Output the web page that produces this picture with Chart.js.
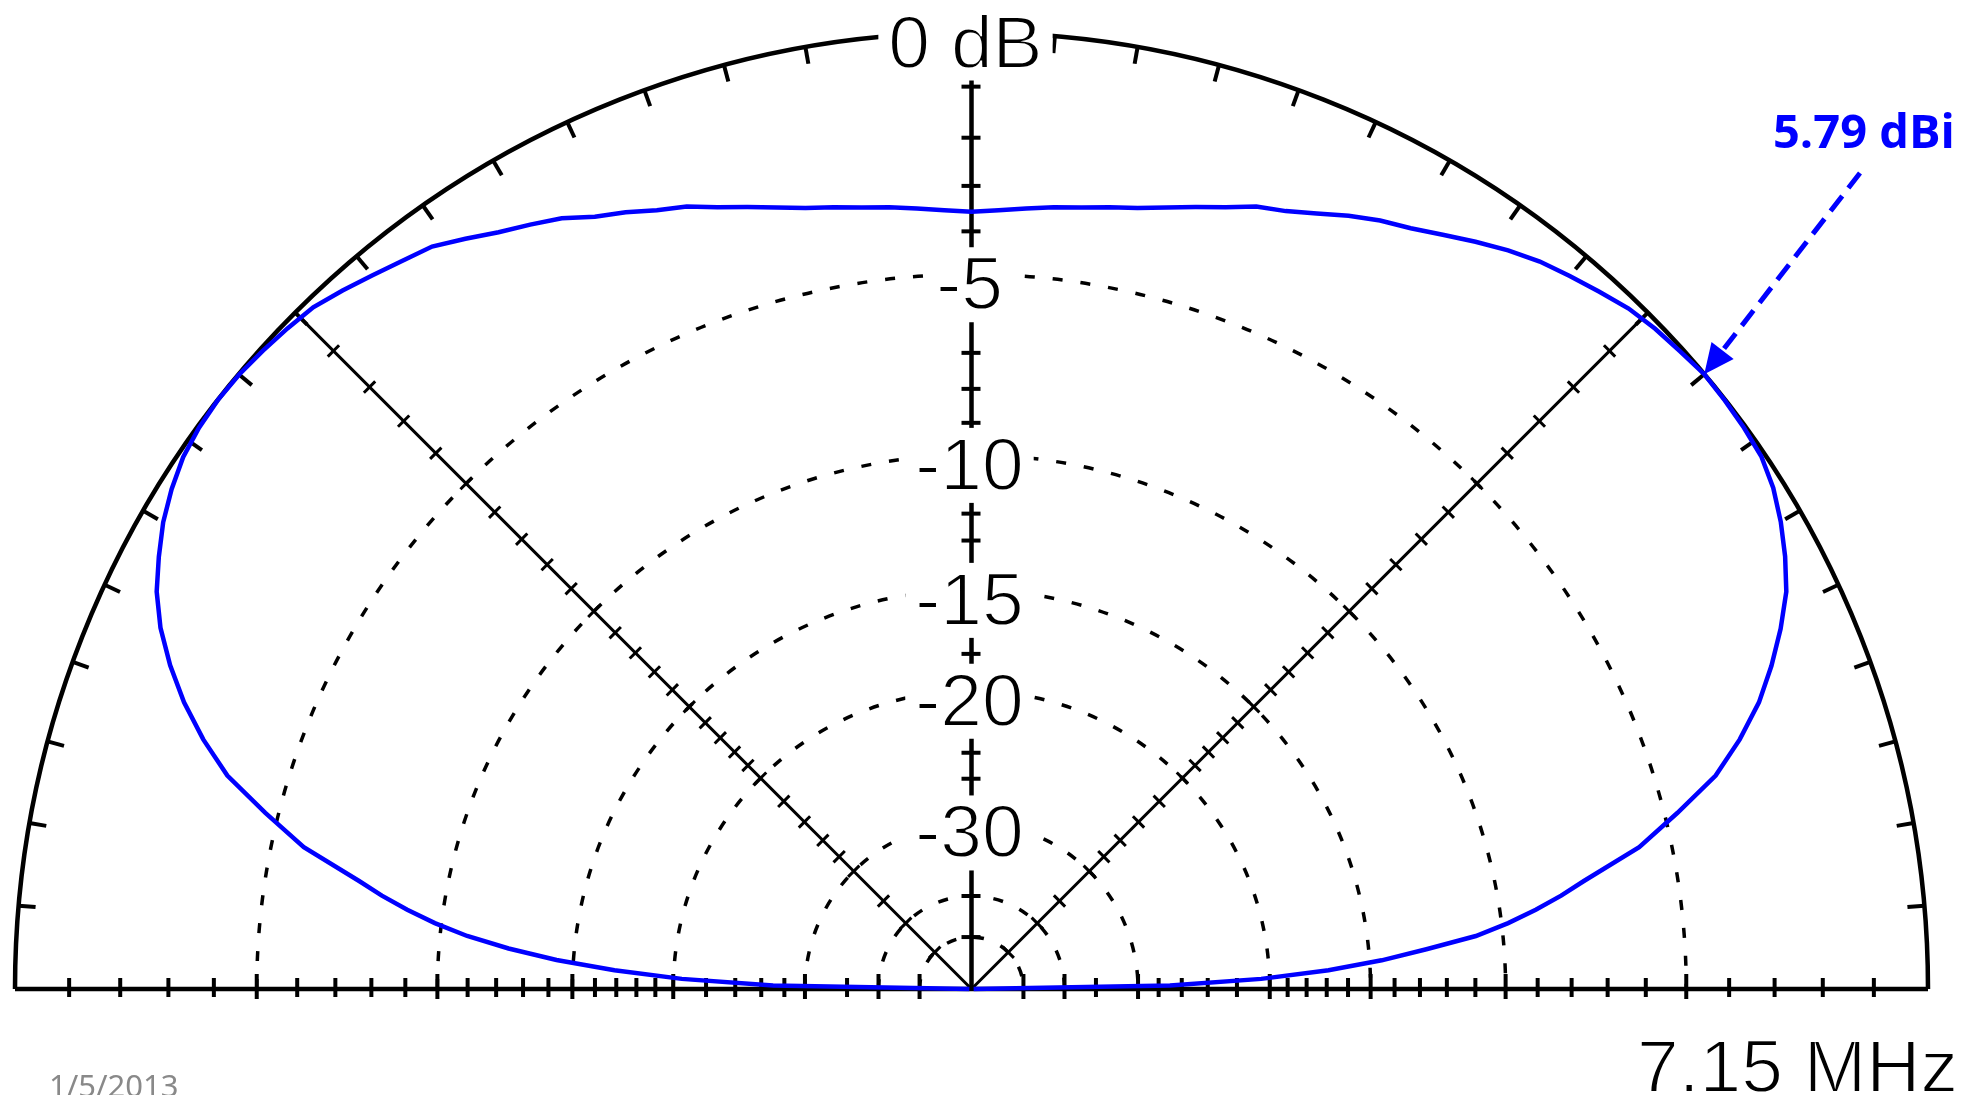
<!DOCTYPE html>
<html>
<head>
<meta charset="utf-8">
<title>Elevation pattern 7.15 MHz</title>
<script src="https://cdn.jsdelivr.net/npm/chart.js@4.4.1/dist/chart.umd.min.js"></script>
<style>
  html, body { margin: 0; padding: 0; background: #fff; }
  canvas { display: block; }
</style>
</head>
<body>
<canvas id="pattern" width="1976" height="1095"></canvas>
<script>
// elevation angle in degrees, 0 = horizon on the right (front), 180 = horizon on the left
const elevation = [
  0, 1, 2, 3, 4, 5, 6, 7, 8, 9, 10,
  12, 14, 16, 18, 20, 22, 24, 26, 28, 30, 32, 34, 36, 38, 40, 42, 44, 46, 48, 50,
  52, 54, 56, 58, 60, 62, 64, 66, 68, 70, 72, 74, 76, 78, 80, 82, 84, 86, 88, 90,
  92, 94, 96, 98, 100, 102, 104, 106, 108, 110, 112, 114, 116, 118, 120, 122, 124, 126, 128, 130,
  132, 134, 136, 138, 140, 142, 144, 146, 148, 150, 152, 154, 156, 158, 160, 162, 164, 166, 168, 170,
  171, 172, 173, 174, 175, 176, 177, 178, 179, 180
];
// total field gain, dBi
const gainDbi = [
  -99, -21.2, -14.7, -11.1, -8.7, -6.9, -5.1, -4.0, -3.1, -2.3, -1.6,
  0.0, 1.09, 2.16, 2.89, 3.52, 4.02, 4.47, 4.87, 5.15, 5.39, 5.59, 5.72, 5.76, 5.78, 5.79, 5.73, 5.68, 5.60, 5.46, 5.32,
  5.18, 4.99, 4.77, 4.54, 4.33, 4.17, 3.97, 3.74, 3.54, 3.41, 3.19, 3.01, 2.84, 2.69, 2.59, 2.49, 2.42, 2.34, 2.27, 2.23,
  2.27, 2.34, 2.42, 2.49, 2.59, 2.69, 2.84, 3.01, 3.19, 3.41, 3.56, 3.77, 3.95, 4.22, 4.41, 4.60, 4.84, 5.08, 5.20, 5.34,
  5.49, 5.63, 5.69, 5.74, 5.78, 5.79, 5.76, 5.69, 5.55, 5.37, 5.13, 4.87, 4.51, 4.05, 3.52, 2.89, 2.16, 1.10, 0.0, -1.6,
  -2.3, -3.1, -4.0, -5.1, -6.6, -8.5, -11.1, -14.7, -21.2, -99
];
const maxGainDbi = 5.79;

// dB below the maximum, ARRL log radial scale
const ringLevels = [-5, -10, -15, -20, -30, -40, -50];
const ringLabels = ['-5', '-10', '-15', '-20', '-30'];
const tickLevels = [-1, -2, -3, -4, -5, -6, -7, -8, -9, -10, -11, -12, -13, -14, -15, -16, -17, -18, -19, -20,
  -22, -24, -26, -28, -30, -35, -40, -50];
const topLabel = '0 dB';
const frequencyLabel = '7.15 MHz';
const dateLabel = '1/5/2013';

// page layout (pixels)
const W = 1976, H = 1095;
const CX = 971.5, CY = 989, R = 956.5;

// ARRL log scale: every 2 dB down shrinks the radius by 0.89
function relRadius(dbDown) {
  return Math.pow(0.89, -dbDown / 2);
}

const points = elevation.map((deg, i) => {
  const r = relRadius(gainDbi[i] - maxGainDbi);
  const a = deg * Math.PI / 180;
  return { x: r * Math.cos(a), y: r * Math.sin(a) };
});

const EZ_FONT = '75px "Liberation Sans", Arial, sans-serif';

// thin-stroked plot lettering: fill, then shave the outline with white
function thinText(ctx, text, x, y) {
  ctx.fillStyle = '#000';
  ctx.fillText(text, x, y);
  ctx.strokeStyle = '#fff';
  ctx.lineWidth = 1.8;
  ctx.strokeText(text, x, y);
}

const polarGrid = {
  id: 'polarGrid',
  beforeDatasetsDraw(chart) {
    const { ctx, scales: { x, y } } = chart;
    const cx = x.getPixelForValue(0), cy = y.getPixelForValue(0);
    const rx = x.getPixelForValue(1) - cx, ry = cy - y.getPixelForValue(1);
    const at = (rel, deg) => {
      const a = deg * Math.PI / 180;
      return [cx + rel * rx * Math.cos(a), cy - rel * ry * Math.sin(a)];
    };
    ctx.save();
    ctx.strokeStyle = '#000';
    ctx.lineCap = 'butt';

    // dashed rings
    ctx.lineWidth = 3.5;
    ctx.setLineDash([10, 18]);
    ringLevels.forEach(lv => {
      const r = relRadius(lv);
      ctx.beginPath();
      ctx.ellipse(cx, cy, r * rx, r * ry, 0, Math.PI, 2 * Math.PI);
      ctx.stroke();
    });
    ctx.setLineDash([]);

    // outer 0 dB ring and baseline
    ctx.lineWidth = 4.5;
    ctx.beginPath();
    ctx.ellipse(cx, cy, rx, ry, 0, Math.PI, 2 * Math.PI);
    ctx.stroke();
    ctx.beginPath();
    ctx.moveTo(cx - rx, cy);
    ctx.lineTo(cx + rx, cy);
    ctx.stroke();

    // angle ticks every 5 degrees on the outer ring
    ctx.lineWidth = 4;
    for (let d = 5; d < 180; d += 5) {
      const [x1, y1] = at(1, d);
      const [x2, y2] = at(1 - 17 / rx, d);
      ctx.beginPath();
      ctx.moveTo(x1, y1);
      ctx.lineTo(x2, y2);
      ctx.stroke();
    }

    // baseline ticks
    tickLevels.forEach(lv => {
      const major = ringLevels.includes(lv);
      const r = relRadius(lv) * rx;
      [-1, 1].forEach(s => {
        ctx.beginPath();
        ctx.moveTo(cx + s * r, cy - (major ? 15 : 11));
        ctx.lineTo(cx + s * r, cy + (major ? 10 : 8));
        ctx.stroke();
      });
    });

    // vertical axis with ticks
    ctx.lineWidth = 4.5;
    ctx.beginPath();
    ctx.moveTo(cx, cy);
    ctx.lineTo(cx, cy - ry);
    ctx.stroke();
    ctx.lineWidth = 4;
    tickLevels.forEach(lv => {
      const yy = cy - relRadius(lv) * ry;
      ctx.beginPath();
      ctx.moveTo(cx - 10, yy);
      ctx.lineTo(cx + 9, yy);
      ctx.stroke();
    });

    // 45 degree spokes with ticks
    ctx.lineWidth = 3;
    [45, 135].forEach(d => {
      const [ex, ey] = at(0.99, d);
      ctx.beginPath();
      ctx.moveTo(cx, cy);
      ctx.lineTo(ex, ey);
      ctx.stroke();
      const a = d * Math.PI / 180;
      const px = -Math.sin(a), py = -Math.cos(a);
      tickLevels.forEach(lv => {
        const [tx, ty] = at(relRadius(lv), d);
        ctx.beginPath();
        ctx.moveTo(tx - px * 8, ty - py * 8);
        ctx.lineTo(tx + px * 8, ty + py * 8);
        ctx.stroke();
      });
    });

    // level labels on white boxes
    ctx.font = EZ_FONT;
    ctx.textAlign = 'center';
    ctx.textBaseline = 'alphabetic';
    const label = (text, xc, base) => {
      const w = ctx.measureText(text).width;
      ctx.fillStyle = '#fff';
      ctx.fillRect(xc - w / 2 - 10, base - 62, w + 20, 75);
      thinText(ctx, text, xc, base);
    };
    label(topLabel, cx - 6, cy - ry + 35);
    ringLabels.forEach((t, i) => {
      label(t, cx - 2, cy - relRadius(ringLevels[i]) * ry + 35);
    });
    ctx.restore();
  },
  afterDraw(chart) {
    const { ctx, scales: { x, y } } = chart;
    ctx.save();

    // frequency and date
    ctx.font = EZ_FONT;
    ctx.textAlign = 'right';
    ctx.textBaseline = 'alphabetic';
    thinText(ctx, frequencyLabel, 1958, 1092);
    ctx.fillStyle = '#898989';
    ctx.font = '31px "Noto Sans", "Open Sans", sans-serif';
    ctx.textAlign = 'left';
    ctx.fillText(dateLabel, 49, 1097);

    // max gain callout
    ctx.fillStyle = '#0000ff';
    ctx.font = 'bold 47px "Open Sans", "Noto Sans", sans-serif';
    ctx.fillText(maxGainDbi.toFixed(2) + ' dBi', 1773, 148);

    const iMax = gainDbi.indexOf(maxGainDbi);
    const tipX = x.getPixelForValue(points[iMax].x);
    const tipY = y.getPixelForValue(points[iMax].y);
    const tailX = 1860, tailY = 173;
    const len = Math.hypot(tailX - tipX, tailY - tipY);
    const ux = (tailX - tipX) / len, uy = (tailY - tipY) / len;
    const headLen = 30, headHalf = 14;
    ctx.strokeStyle = '#0000ff';
    ctx.lineWidth = 5;
    ctx.setLineDash([19, 10]);
    ctx.beginPath();
    ctx.moveTo(tailX, tailY);
    ctx.lineTo(tipX + ux * (headLen - 2), tipY + uy * (headLen - 2));
    ctx.stroke();
    ctx.setLineDash([]);
    ctx.beginPath();
    ctx.moveTo(tipX, tipY);
    ctx.lineTo(tipX + ux * headLen - uy * headHalf, tipY + uy * headLen + ux * headHalf);
    ctx.lineTo(tipX + ux * headLen + uy * headHalf, tipY + uy * headLen - ux * headHalf);
    ctx.closePath();
    ctx.fill();
    ctx.restore();
  }
};

new Chart(document.getElementById('pattern'), {
  type: 'scatter',
  data: {
    datasets: [{
      data: points,
      showLine: true,
      borderColor: '#0000ff',
      borderWidth: 4.5,
      pointRadius: 0,
      tension: 0,
      fill: false
    }]
  },
  options: {
    responsive: false,
    animation: false,
    devicePixelRatio: 1,
    events: [],
    layout: { padding: 0 },
    plugins: {
      legend: { display: false },
      tooltip: { enabled: false }
    },
    scales: {
      x: { type: 'linear', display: false, min: -CX / R, max: (W - CX) / R },
      y: { type: 'linear', display: false, min: -(H - CY) / R, max: CY / R }
    }
  },
  plugins: [polarGrid]
});
</script>
</body>
</html>
